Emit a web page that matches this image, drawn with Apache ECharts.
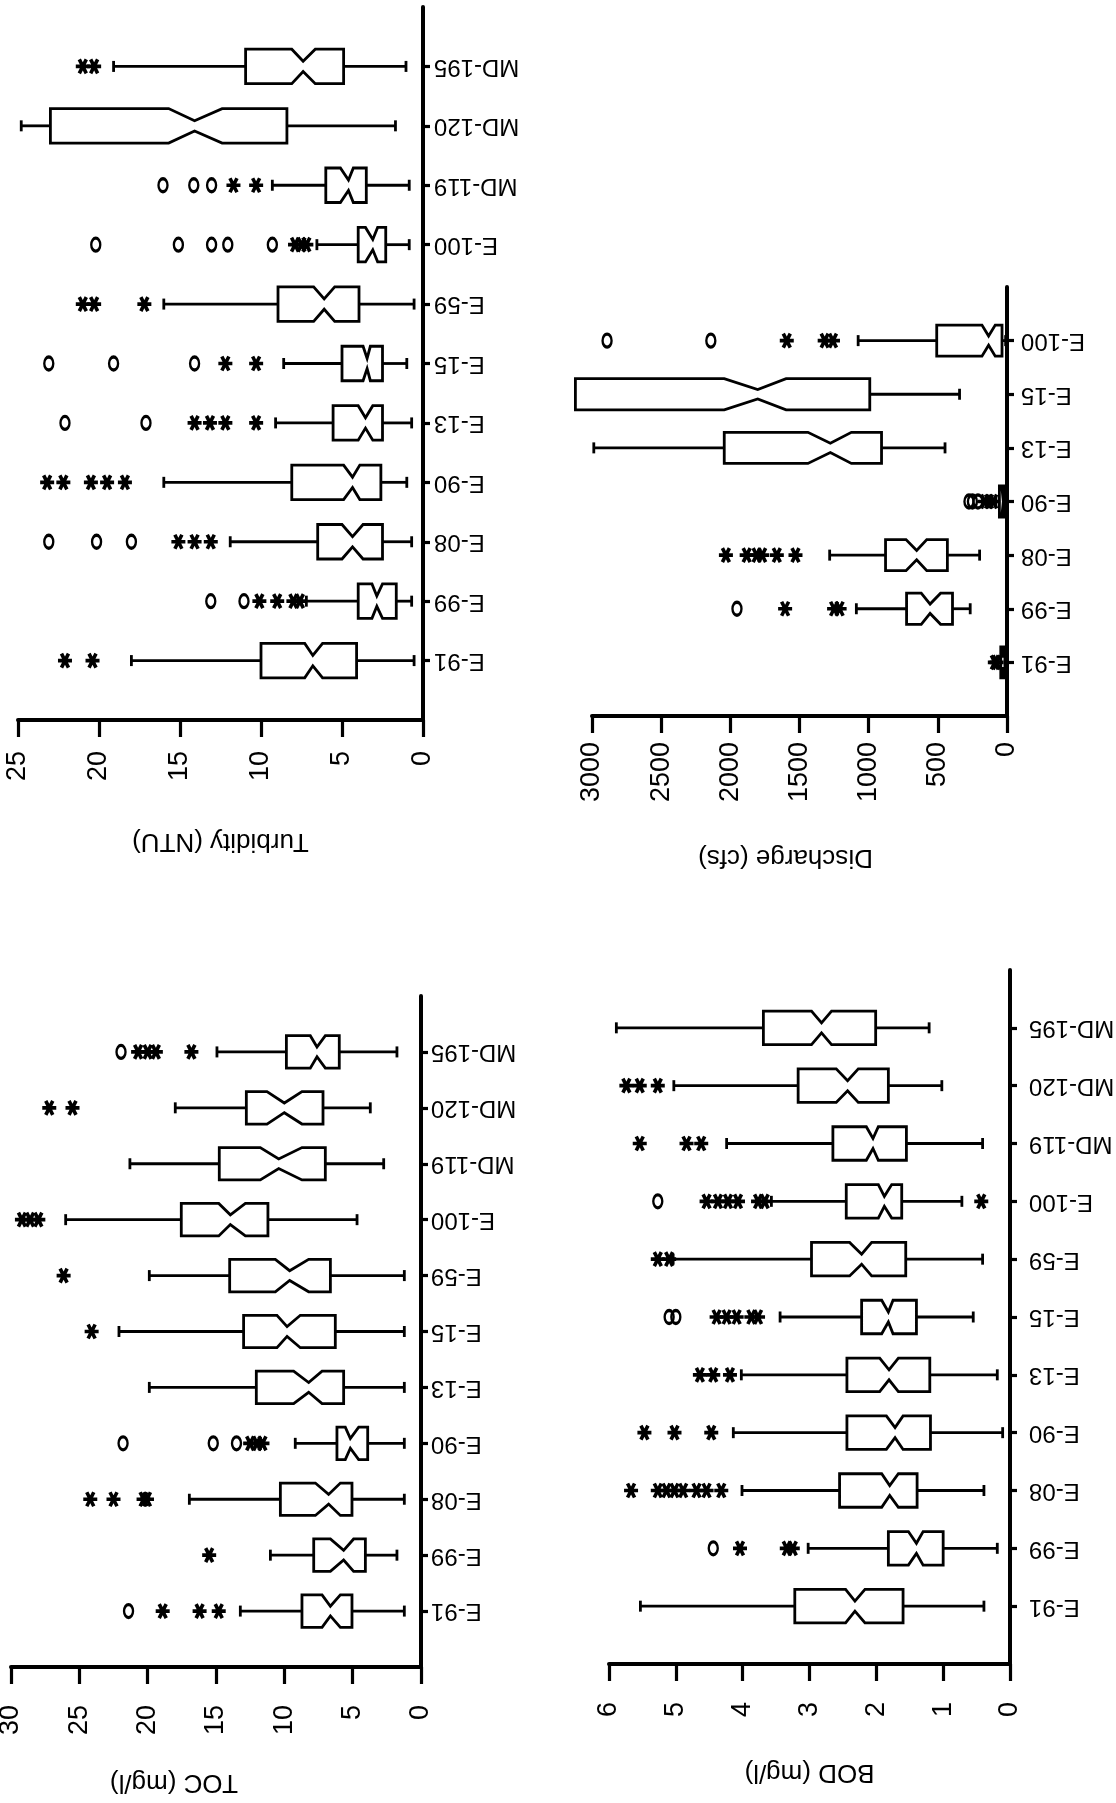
<!DOCTYPE html>
<html><head><meta charset="utf-8">
<script src="https://cdn.jsdelivr.net/npm/echarts@6/dist/echarts.min.js"></script>
<style>html,body{margin:0;padding:0;background:#fff;}#c{width:1116px;height:1803px;}</style>
</head><body><div id="c"></div>
<script>
const categories = ['E-91','E-99','E-08','E-90','E-13','E-15','E-59','E-100','MD-119','MD-120','MD-195'];
const dischargeCategories = ['E-91','E-99','E-08','E-90','E-13','E-15','E-100'];

// box stats per category: [low whisker, Q1, notch low, median, notch high, Q3, high whisker]
const turbidityBoxes = [
  [0.55, 4.1, 6.2, 6.8, 7.3, 10.0, 18.0],
  [0.7, 1.65, 2.5, 2.85, 3.15, 4.0, 7.2],
  [0.7, 2.5, 3.7, 4.35, 5.0, 6.5, 11.9],
  [1.0, 2.6, 3.9, 4.35, 4.9, 8.1, 16.0],
  [0.7, 2.5, 3.1, 3.55, 4.0, 5.55, 9.1],
  [1.0, 2.5, 3.25, 3.45, 3.7, 5.0, 8.6],
  [0.55, 3.95, 5.45, 6.1, 6.75, 8.95, 16.0],
  [0.85, 2.3, 2.8, 3.1, 3.55, 4.0, 6.55],
  [0.85, 3.5, 4.3, 4.6, 5.1, 6.0, 9.3],
  [1.7, 8.4, 12.4, 14.1, 15.7, 23.0, 24.8],
  [1.05, 4.9, 6.65, 7.4, 8.1, 10.95, 19.1]
];
const turbidityStars = [
  ['E-91', 22.1], ['E-91', 20.4],
  ['E-99', 10.1], ['E-99', 9.0], ['E-99', 8.0], ['E-99', 7.6],
  ['E-08', 15.1], ['E-08', 14.1], ['E-08', 13.1],
  ['E-90', 23.2], ['E-90', 22.2], ['E-90', 20.5], ['E-90', 19.5], ['E-90', 18.4],
  ['E-13', 10.3], ['E-13', 14.1], ['E-13', 13.15], ['E-13', 12.2],
  ['E-15', 10.3], ['E-15', 12.2],
  ['E-59', 17.2], ['E-59', 21.0], ['E-59', 20.3],
  ['E-100', 7.9], ['E-100', 7.5], ['E-100', 7.2],
  ['MD-119', 11.7], ['MD-119', 10.3],
  ['MD-195', 21.0], ['MD-195', 20.3]
];
const turbidityCircles = [
  ['E-99', 11.05], ['E-99', 13.1],
  ['E-08', 23.1], ['E-08', 20.15], ['E-08', 18.0],
  ['E-13', 17.1], ['E-13', 22.1],
  ['E-15', 14.1], ['E-15', 19.1], ['E-15', 23.1],
  ['E-100', 9.3], ['E-100', 12.05], ['E-100', 13.05], ['E-100', 15.1], ['E-100', 20.2],
  ['MD-119', 16.05], ['MD-119', 14.15], ['MD-119', 13.05]
];

const dischargeBoxes = [
  [5, 15, 22, 28, 34, 45, 70],
  [266, 394, 480, 556, 620, 726, 1089],
  [198, 431, 580, 653, 730, 878, 1282],
  [5, 15, 22, 30, 38, 55, 80],
  [448, 907, 1125, 1277, 1439, 2044, 2987],
  [343, 992, 1597, 1802, 2044, 3120, 3120],
  [10, 36, 85, 133, 181, 508, 1076]
];
const dischargeStars = [
  ['E-91', 75], ['E-91', 88],
  ['E-99', 1210], ['E-99', 1250], ['E-99', 1604],
  ['E-08', 1529], ['E-08', 1664], ['E-08', 1770], ['E-08', 1810], ['E-08', 1882], ['E-08', 2032],
  ['E-90', 100], ['E-90', 130], ['E-90', 160],
  ['E-100', 1258], ['E-100', 1318], ['E-100', 1592]
];
const dischargeCircles = [
  ['E-99', 1952],
  ['E-90', 210], ['E-90', 250], ['E-90', 275],
  ['E-100', 2141], ['E-100', 2891]
];

const tocBoxes = [
  [1.22, 5.05, 5.9, 6.63, 7.24, 8.71, 13.22],
  [1.76, 4.07, 4.93, 5.66, 6.63, 7.85, 11.02],
  [1.22, 5.05, 5.9, 6.76, 7.73, 10.29, 16.95],
  [1.22, 3.9, 4.56, 5.17, 5.54, 6.15, 9.2],
  [1.22, 5.66, 7.24, 8.22, 9.32, 12.05, 19.88],
  [1.22, 6.27, 8.83, 9.8, 10.54, 12.98, 22.1],
  [1.22, 6.63, 8.22, 9.61, 10.66, 14.0, 19.88],
  [4.68, 11.2, 12.85, 13.95, 14.8, 17.54, 26.0],
  [2.73, 7.0, 8.71, 10.41, 11.76, 14.76, 21.3],
  [3.71, 7.17, 8.71, 10.0, 11.27, 12.78, 17.98],
  [1.76, 5.98, 7.0, 7.61, 8.1, 9.85, 14.93]
];
const tocStars = [
  ['E-91', 14.8], ['E-91', 16.2], ['E-91', 18.9],
  ['E-99', 15.5],
  ['E-08', 20.05], ['E-08', 20.3], ['E-08', 22.5], ['E-08', 24.2],
  ['E-90', 11.6], ['E-90', 12.0], ['E-90', 12.5],
  ['E-15', 24.1],
  ['E-59', 26.15],
  ['E-100', 28.0], ['E-100', 28.6], ['E-100', 29.2],
  ['MD-120', 25.5], ['MD-120', 27.2],
  ['MD-195', 16.8], ['MD-195', 19.4], ['MD-195', 20.0], ['MD-195', 20.7]
];
const tocCircles = [
  ['E-91', 21.4],
  ['E-90', 13.5], ['E-90', 15.2], ['E-90', 21.8],
  ['MD-195', 21.95]
];

const bodBoxes = [
  [0.39, 1.6, 2.17, 2.32, 2.46, 3.22, 5.53],
  [0.19, 1.0, 1.3, 1.4, 1.52, 1.82, 3.02],
  [0.39, 1.39, 1.67, 1.8, 1.92, 2.55, 4.01],
  [0.11, 1.19, 1.6, 1.72, 1.85, 2.44, 4.14],
  [0.19, 1.2, 1.67, 1.81, 1.95, 2.44, 4.02],
  [0.55, 1.4, 1.75, 1.82, 1.92, 2.22, 3.44],
  [0.41, 1.56, 2.07, 2.22, 2.4, 2.97, 5.04],
  [0.72, 1.62, 1.77, 1.88, 1.97, 2.45, 3.57],
  [0.41, 1.55, 1.97, 2.05, 2.15, 2.65, 4.24],
  [1.02, 1.82, 2.27, 2.43, 2.6, 3.17, 5.03],
  [1.21, 2.01, 2.67, 2.82, 2.97, 3.69, 5.89]
];
const bodStars = [
  ['E-99', 3.25], ['E-99', 3.34], ['E-99', 4.04],
  ['E-08', 4.32], ['E-08', 4.54], ['E-08', 4.69], ['E-08', 4.89], ['E-08', 5.02], ['E-08', 5.14], ['E-08', 5.27], ['E-08', 5.67],
  ['E-90', 4.47], ['E-90', 5.02], ['E-90', 5.47],
  ['E-13', 4.19], ['E-13', 4.44], ['E-13', 4.64],
  ['E-15', 3.77], ['E-15', 3.87], ['E-15', 4.09], ['E-15', 4.24], ['E-15', 4.39],
  ['E-59', 5.1], ['E-59', 5.27],
  ['E-100', 0.43], ['E-100', 3.67], ['E-100', 3.77], ['E-100', 4.07], ['E-100', 4.22], ['E-100', 4.37], ['E-100', 4.54],
  ['MD-119', 4.62], ['MD-119', 4.84], ['MD-119', 5.54],
  ['MD-120', 5.27], ['MD-120', 5.54], ['MD-120', 5.74]
];
const bodCircles = [
  ['E-99', 4.44],
  ['E-15', 5.0], ['E-15', 5.1],
  ['E-100', 5.27]
];

const turbidityTicks = [0, 5, 10, 15, 20, 25];
const dischargeTicks = [0, 500, 1000, 1500, 2000, 2500, 3000];
const tocTicks = [0, 5, 10, 15, 20, 25, 30];
const bodTicks = [0, 1, 2, 3, 4, 5, 6];

const panels = [
  { name: 'Turbidity (NTU)', cats: categories, boxes: turbidityBoxes, stars: turbidityStars, circles: turbidityCircles, ticks: turbidityTicks,
    grid: { left: 18, top: 7, width: 405, height: 713 }, labelMargin: 31, catMargin: 11, nameGap: 108, namePad: 0 },
  { name: 'Discharge (cfs)', cats: dischargeCategories, boxes: dischargeBoxes, stars: dischargeStars, circles: dischargeCircles, ticks: dischargeTicks,
    grid: { left: 592, top: 287, width: 415, height: 429 }, labelMargin: 26, catMargin: 14, nameGap: 128, namePad: 28 },
  { name: 'TOC (mg/l)', cats: categories, boxes: tocBoxes, stars: tocStars, circles: tocCircles, ticks: tocTicks,
    grid: { left: 11, top: 996, width: 410, height: 671 }, labelMargin: 38, catMargin: 10, nameGap: 102, namePad: 84 },
  { name: 'BOD (mg/l)', cats: categories, boxes: bodBoxes, stars: bodStars, circles: bodCircles, ticks: bodTicks,
    grid: { left: 609, top: 970, width: 401, height: 694 }, labelMargin: 38, catMargin: 19, nameGap: 95, namePad: 0 }
];

const FONT = "'Liberation Sans', Arial, Helvetica, sans-serif";
const STAR = 'path://M0,6L12,6M3,0.8L9,11.2M3,11.2L9,0.8';
const RING = 'path://M0,5A5,5 0 1,1 10,5A5,5 0 1,1 0,5Z';

function renderBox(params, api) {
  const c = api.value(0);
  const vals = [1, 2, 3, 4, 5, 6, 7].map(i => api.value(i));
  const xs = vals.map(v => api.coord([v, c])[0]);
  const y = api.coord([0, c])[1];
  const band = api.size([0, 1])[1];
  const h = band * 0.29, w = h * 0.3, cap = 5.5;
  const [xlo, xq1, xnl, xmd, xnh, xq3, xhi] = xs;
  const ls = { stroke: '#000', lineWidth: 2.8, fill: null };
  return { type: 'group', children: [
    { type: 'line', shape: { x1: xlo, y1: y, x2: xq1, y2: y }, style: ls },
    { type: 'line', shape: { x1: xq3, y1: y, x2: xhi, y2: y }, style: ls },
    { type: 'line', shape: { x1: xlo, y1: y - cap, x2: xlo, y2: y + cap }, style: ls },
    { type: 'line', shape: { x1: xhi, y1: y - cap, x2: xhi, y2: y + cap }, style: ls },
    { type: 'polygon', shape: { points: [[xq1, y - h], [xnl, y - h], [xmd, y - w], [xnh, y - h], [xq3, y - h], [xq3, y + h], [xnh, y + h], [xmd, y + w], [xnl, y + h], [xq1, y + h]] },
      style: { stroke: '#000', lineWidth: 2.8, fill: '#fff', lineJoin: 'miter' } }
  ] };
}

const grids = [], xAxes = [], yAxes = [], series = [];
panels.forEach((p, i) => {
  grids.push(Object.assign({ outerBoundsMode: 'none', containLabel: false }, p.grid));
  const n = p.cats.length;
  xAxes.push({
    gridIndex: i, type: 'value', inverse: true, position: 'bottom',
    min: p.ticks[0], max: p.ticks[p.ticks.length - 1], interval: p.ticks[1] - p.ticks[0],
    axisLine: { show: true, onZero: false, lineStyle: { color: '#000', width: 4 } },
    axisTick: { show: true, inside: false, length: 17, lineStyle: { color: '#000', width: 3.2 } },
    splitLine: { show: false },
    axisLabel: { rotate: 90, margin: p.labelMargin, fontSize: 27, color: '#000', fontFamily: FONT,
      showMinLabel: true, showMaxLabel: true, formatter: (v) => String(v) },
    name: p.name, nameLocation: 'middle', nameGap: p.nameGap, nameRotate: 180, nameMoveOverlap: false,
    nameTextStyle: { fontSize: 26, color: '#000', fontFamily: FONT, padding: [0, 0, 0, p.namePad] }
  });
  yAxes.push({
    gridIndex: i, type: 'category', position: 'right', boundaryGap: false,
    data: [''].concat(p.cats, ['']),
    axisLine: { show: true, onZero: false, lineStyle: { color: '#000', width: 4 } },
    axisTick: { show: true, inside: false, length: 7, lineStyle: { color: '#000', width: 3.2 }, interval: (idx) => idx > 0 && idx < n + 1 },
    splitLine: { show: false },
    axisLabel: { rotate: 180, interval: 0, margin: p.catMargin, fontSize: 24, color: '#000', fontFamily: FONT }
  });
  series.push({
    type: 'custom', xAxisIndex: i, yAxisIndex: i, clip: false, silent: true, z: 2,
    encode: { x: [1, 2, 3, 4, 5, 6, 7], y: 0 },
    renderItem: renderBox,
    data: p.boxes.map((b, k) => [k + 1].concat(b))
  });
  series.push({
    type: 'scatter', xAxisIndex: i, yAxisIndex: i, silent: true, z: 3, clip: false,
    symbol: STAR, symbolSize: [14, 14],
    itemStyle: { color: '#000', borderColor: '#000', borderWidth: 3.6, opacity: 1 },
    data: p.stars.map(([c, v]) => [v, p.cats.indexOf(c) + 1])
  });
  series.push({
    type: 'scatter', xAxisIndex: i, yAxisIndex: i, silent: true, z: 3, clip: false,
    symbol: RING, symbolSize: [9, 13],
    itemStyle: { color: 'rgba(0,0,0,0)', borderColor: '#000', borderWidth: 2.8, opacity: 1 },
    data: p.circles.map(([c, v]) => [v, p.cats.indexOf(c) + 1])
  });
});

const chart = echarts.init(document.getElementById('c'), null, { renderer: 'canvas' });
chart.setOption({
  animation: false,
  backgroundColor: '#fff',
  grid: grids, xAxis: xAxes, yAxis: yAxes, series: series
});
</script></body></html>
